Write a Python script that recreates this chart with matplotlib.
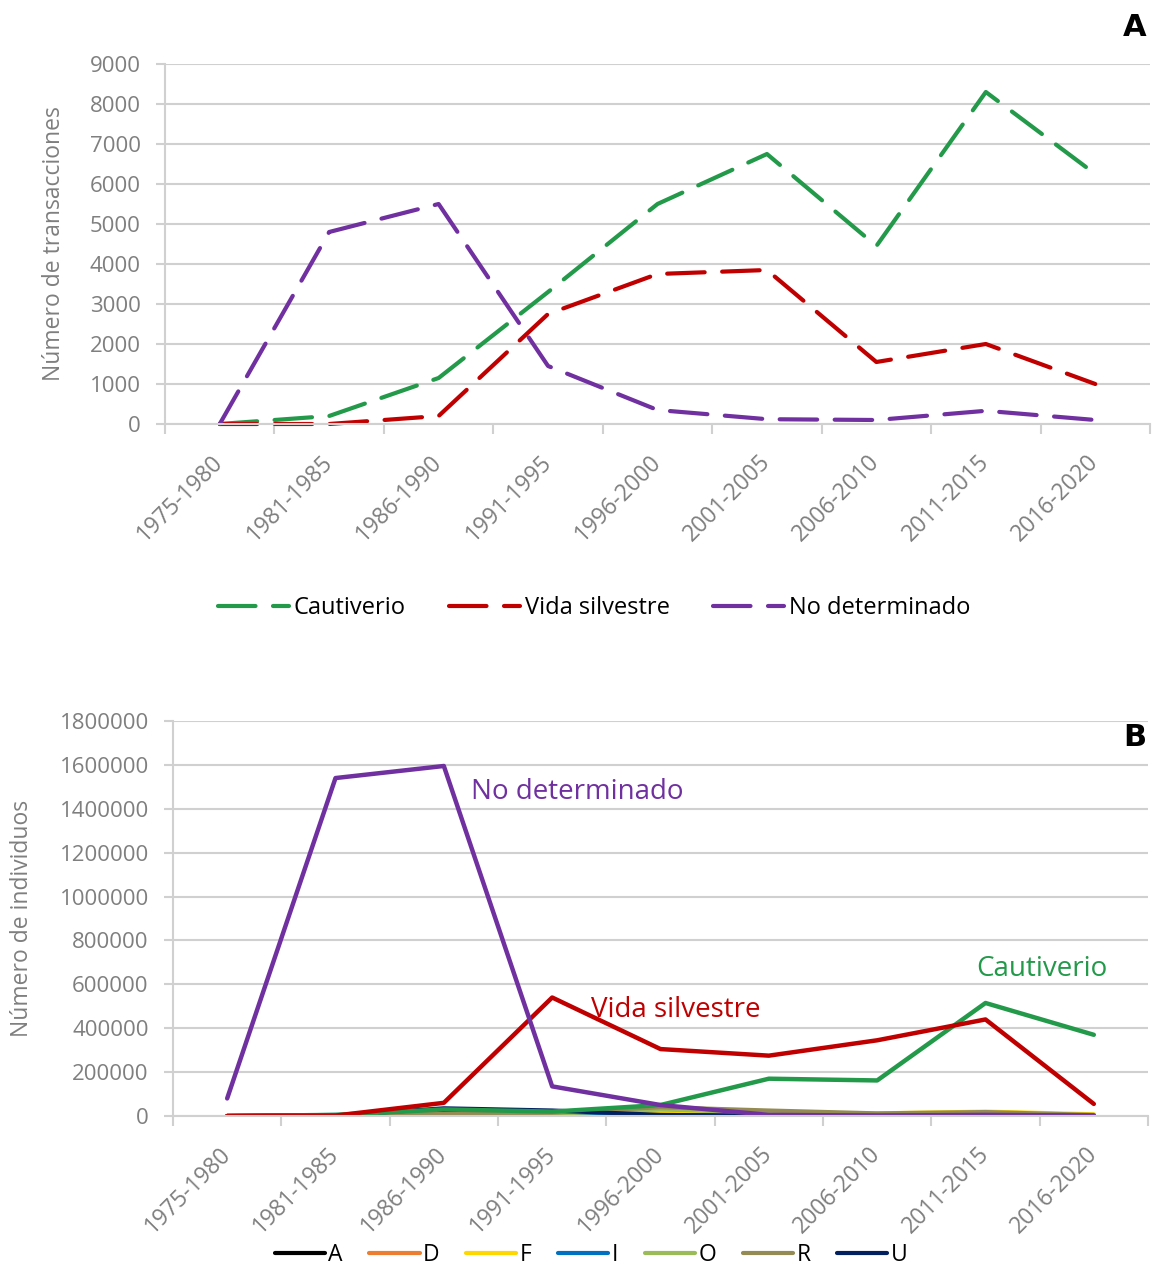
import matplotlib
matplotlib.use("Agg")
import matplotlib.pyplot as plt
from matplotlib.lines import Line2D
from matplotlib.ticker import FuncFormatter

plt.rcParams['font.family'] = ['Open Sans', 'DejaVu Sans']

periods = ["1975-1980", "1981-1985", "1986-1990", "1991-1995", "1996-2000",
           "2001-2005", "2006-2010", "2011-2015", "2016-2020"]

# Panel A: number of transactions
trans_cautiverio = [0, 200, 1150, 3300, 5500, 6750, 4450, 8300, 6250]
trans_silvestre = [0, 0, 200, 2750, 3750, 3850, 1550, 2000, 1000]
trans_nodet = [0, 4800, 5500, 1450, 350, 120, 100, 330, 100]

# Panel B: number of individuals
ind_cautiverio = [0, 5000, 30000, 20000, 50000, 170000, 162000, 515000, 370000]
ind_silvestre = [0, 2000, 60000, 540000, 305000, 275000, 345000, 440000, 55000]
ind_nodet = [80000, 1540000, 1595000, 135000, 50000, 5000, 2000, 5000, 2000]

small_names = ["A", "D", "F", "I", "O", "R", "U"]
small_A = [0, 1000, 25000, 20000, 5000, 1000, 500, 1000, 500]
small_D = [0, 500, 2000, 2000, 3000, 2000, 1000, 2000, 1000]
small_F = [0, 500, 3000, 5000, 15000, 12000, 12000, 20000, 8000]
small_I = [0, 5000, 8000, 6000, 4000, 2000, 1000, 2000, 1000]
small_O = [0, 1000, 8000, 10000, 30000, 15000, 5000, 8000, 3000]
small_R = [0, 1000, 10000, 15000, 40000, 25000, 12000, 18000, 5000]
small_U = [0, 2000, 35000, 25000, 5000, 1000, 500, 1000, 500]

GREEN = '#23994A'
RED = '#C00000'
PURPLE = '#7030A0'
small_colors = ['#000000', '#ED7D31', '#FFD700', '#0070C0', '#9BBB59', '#948A54', '#002060']
small_values = [small_A, small_D, small_F, small_I, small_O, small_R, small_U]

GRID = '#D0D0D0'
TXT = '#7F7F7F'

fig = plt.figure(figsize=(11.53, 12.66), dpi=100)
W, H = 1153, 1266


def style_axes(ax, ymax, ystep, ylabel, label_x):
    x = list(range(len(periods)))
    ax.set_xlim(-0.5, len(periods) - 0.5)
    ax.set_ylim(0, ymax)
    ax.set_yticks(range(0, ymax + 1, ystep))
    ax.yaxis.set_major_formatter(FuncFormatter(lambda v, p: f"{int(round(v))}"))
    ax.tick_params(axis='y', colors=GRID, labelcolor=TXT, labelsize=16, length=6.5, width=1.5, pad=11)
    ax.set_xticks([i - 0.5 for i in range(len(periods) + 1)])
    ax.set_xticklabels([])
    ax.set_xticks(x, minor=True)
    ax.set_xticklabels(periods, minor=True, rotation=45, ha='right', va='center',
                       rotation_mode='anchor', color=TXT, fontsize=16.5)
    ax.tick_params(axis='x', which='major', colors=GRID, length=7, width=1.5)
    ax.tick_params(axis='x', which='minor', length=0, pad=25)
    for s in ['top', 'right']:
        ax.spines[s].set_visible(False)
    for s in ['left', 'bottom']:
        ax.spines[s].set_color(GRID)
        ax.spines[s].set_linewidth(1.5)
    ax.yaxis.grid(True, color=GRID, linewidth=1.5)
    ax.set_axisbelow(True)
    ax.set_ylabel(ylabel, color=TXT, fontsize=16.5)
    ax.yaxis.set_label_coords(label_x, 0.5)


# Panel A
axA = fig.add_axes([165 / W, 1 - 424 / H, 985 / W, 360 / H])
style_axes(axA, 9000, 1000, "Número de transacciones", (66 - 165) / 985)
x = list(range(len(periods)))
dash = (9, 4.2)
for vals, col, lab in [(trans_cautiverio, GREEN, "Cautiverio"),
                       (trans_silvestre, RED, "Vida silvestre"),
                       (trans_nodet, PURPLE, "No determinado")]:
    axA.plot(x, vals, color=col, lw=3, dashes=dash, dash_capstyle='round',
             solid_capstyle='round', label=lab, clip_on=False)
axA.legend(loc='center', bbox_to_anchor=(594 / W, 1 - 608 / H), bbox_transform=fig.transFigure,
           ncol=3, frameon=False, fontsize=17, handlelength=3.0, handletextpad=0.2,
           columnspacing=1.85, borderpad=0)
fig.text(1135 / W, 1 - 28 / H, "A", fontsize=22, fontweight='bold', ha='center', va='center',
         family='DejaVu Sans')

# Panel B
axB = fig.add_axes([173 / W, 1 - 1116 / H, 975 / W, 395 / H])
style_axes(axB, 1800000, 200000, "Número de individuos", (34 - 173) / 975)
for vals, col in zip(small_values, small_colors):
    axB.plot(x, vals, color=col, lw=3, solid_capstyle='round')
axB.plot(x, ind_cautiverio, color=GREEN, lw=3.2, solid_capstyle='round')
axB.plot(x, ind_silvestre, color=RED, lw=3.2, solid_capstyle='round')
axB.plot(x, ind_nodet, color=PURPLE, lw=3.2, solid_capstyle='round')

fig.text(471 / W, 1 - 792 / H, "No determinado", color=PURPLE, fontsize=20, ha='left', va='center')
fig.text(591 / W, 1 - 1010 / H, "Vida silvestre", color=RED, fontsize=20, ha='left', va='center')
fig.text(976 / W, 1 - 969 / H, "Cautiverio", color=GREEN, fontsize=20, ha='left', va='center')
fig.text(1135 / W, 1 - 738 / H, "B", fontsize=22, fontweight='bold', ha='center', va='center',
         family='DejaVu Sans')

handles = [Line2D([], [], color=c, lw=3, solid_capstyle='round') for c in small_colors]
axB.legend(handles, small_names, loc='center', bbox_to_anchor=(591 / W, 1 - 1255 / H),
           bbox_transform=fig.transFigure, ncol=7, frameon=False, fontsize=16.5,
           handlelength=2.2, handletextpad=0.15, columnspacing=1.15,
           borderpad=0)

fig.savefig("out.png", dpi=100)
